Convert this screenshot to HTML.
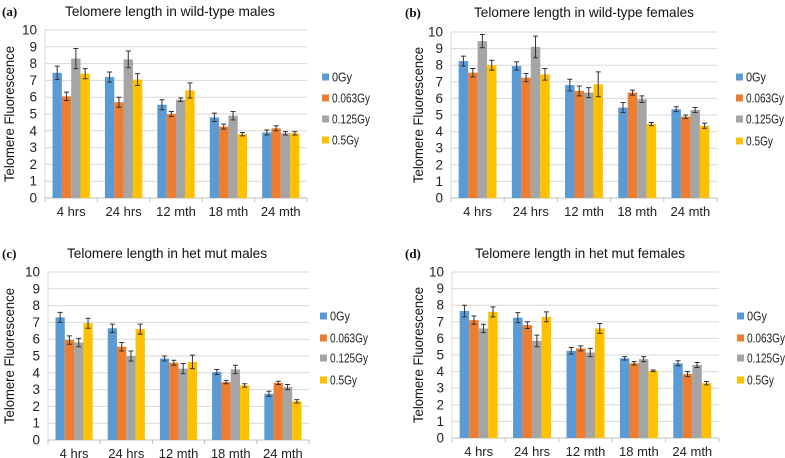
<!DOCTYPE html>
<html><head><meta charset="utf-8">
<style>
html,body{margin:0;padding:0;background:#fff;}
svg{display:block;font-family:"Liberation Sans",sans-serif;}
</style></head>
<body>
<svg id="fig" width="785" height="458" viewBox="0 0 785 458" xmlns="http://www.w3.org/2000/svg"></svg>
<script>
const categories = ["4 hrs","24 hrs","12 mth","18 mth","24 mth"];
const seriesNames = ["0Gy","0.063Gy","0.125Gy","0.5Gy"];
const yTicks = [0,1,2,3,4,5,6,7,8,9,10];
const titles = ["Telomere length in wild-type males","Telomere length in wild-type females","Telomere length in het mut males","Telomere length in het mut females"];
const panelLetters = ["(a)","(b)","(c)","(d)"];
const aVals = [[7.45,7.2,5.55,4.8,3.9],[6.05,5.7,5.0,4.25,4.15],[8.3,8.25,5.85,4.9,3.85],[7.4,7.05,6.4,3.8,3.85]];
const aErr  = [[0.4,0.3,0.3,0.25,0.15],[0.25,0.3,0.15,0.15,0.15],[0.6,0.5,0.1,0.25,0.1],[0.3,0.35,0.45,0.1,0.1]];
const bVals = [[8.25,7.95,6.8,5.45,5.35],[7.55,7.25,6.45,6.35,4.9],[9.45,9.1,6.35,5.95,5.3],[8.0,7.45,6.85,4.45,4.35]];
const bErr  = [[0.3,0.25,0.35,0.3,0.15],[0.25,0.25,0.3,0.15,0.1],[0.4,0.65,0.3,0.2,0.15],[0.3,0.35,0.75,0.1,0.15]];
const cVals = [[7.3,6.65,4.85,4.05,2.75],[5.95,5.55,4.6,3.45,3.4],[5.8,5.0,4.25,4.2,3.15],[6.95,6.6,4.65,3.25,2.3]];
const cErr  = [[0.3,0.25,0.15,0.15,0.15],[0.25,0.25,0.15,0.1,0.1],[0.25,0.3,0.3,0.25,0.15],[0.3,0.3,0.4,0.1,0.1]];
const dVals = [[7.65,7.25,5.25,4.8,4.5],[7.1,6.8,5.4,4.5,3.85],[6.6,5.85,5.15,4.75,4.4],[7.6,7.3,6.6,4.05,3.3]];
const dErr  = [[0.35,0.3,0.2,0.1,0.15],[0.25,0.2,0.15,0.1,0.15],[0.25,0.35,0.25,0.15,0.15],[0.3,0.3,0.3,0.05,0.1]];

const colors = ["#5b9bd5","#ed7d31","#a5a5a5","#ffc000"];
const legendLens = [20,38,38,27];
const panels = [
 {vals:aVals,err:aErr,L:45,R:307,T:30,B:198,lx:322,ly:[77,98,119,140],tx:170,ty:12,tl:210,px:2,yl:10},
 {vals:bVals,err:bErr,L:451,R:717,T:32,B:198,lx:736,ly:[77,98,119,141],tx:584,ty:13,tl:220,px:405,yl:419},
 {vals:cVals,err:cErr,L:48,R:309,T:272,B:440,lx:320,ly:[316,338,358,380],tx:167,ty:254,tl:200,px:2,yl:10},
 {vals:dVals,err:dErr,L:452,R:719,T:272,B:438,lx:737,ly:[316,338,358,380],tx:580,ty:254,tl:210,px:405,yl:419}
];
const NS="http://www.w3.org/2000/svg";
const svg=document.getElementById('fig');
function mk(tag,attrs,parent){const e=document.createElementNS(NS,tag);for(const k in attrs)e.setAttribute(k,attrs[k]);(parent||svg).appendChild(e);return e;}

panels.forEach((p,pi)=>{
  const g=mk('g',{});
  
  
  const y=v=>p.B-(v/10)*(p.B-p.T);
  const cw=(p.R-p.L)/categories.length;
  const bw=cw*0.178;
  yTicks.forEach(t=>{
    if(t>0){const l=mk('line',{x1:p.L,x2:p.R,y1:y(t),y2:y(t),stroke:'#d9d9d9','stroke-width':1},g);
    
    }
    const tx=mk('text',{x:p.L-8,y:y(t)+4.5,'text-anchor':'end','font-size':13.5,fill:'#222'},g);
    tx.textContent=t;
    
    
  });
  const ax=mk('line',{x1:p.L,x2:p.R,y1:p.B,y2:p.B,stroke:'#bfbfbf','stroke-width':1},g);
  
  
  const ay=mk('line',{x1:p.L,x2:p.L,y1:p.T,y2:p.B,stroke:'#d9d9d9','stroke-width':1},g);
  
  
  for(let i=0;i<=categories.length;i++){
    const tk=mk('line',{x1:p.L+i*cw,x2:p.L+i*cw,y1:p.B,y2:p.B+4,stroke:'#bfbfbf'},g);
    
    
  }
  categories.forEach((c,ci)=>{
    const cx=p.L+(ci+0.5)*cw;
    const lab=mk('text',{x:cx,y:p.B+18,'text-anchor':'middle','font-size':13,fill:'#222'},g);
    lab.textContent=c;
    
    
    p.vals.forEach((ser,si)=>{
      const v=ser[ci],e=p.err[si][ci];
      const x0=cx-2*bw+si*bw;
      const r=mk('rect',{x:x0,y:y(v),width:bw,height:p.B-y(v),fill:colors[si]},g);
      
      
      const xm=x0+bw/2;
      const eb=mk('path',{d:`M${xm},${y(v+e)}V${y(v-e)}M${xm-2.5},${y(v+e)}H${xm+2.5}M${xm-2.5},${y(v-e)}H${xm+2.5}`,stroke:'#333','stroke-width':1,fill:'none'},g);
      
      
    });
  });
  const t=mk('text',{x:p.tx,y:p.ty+4,'text-anchor':'middle','font-size':14,fill:'#111',textLength:p.tl,lengthAdjust:'spacingAndGlyphs'},g);
  t.textContent=titles[pi];
  
  
  const pl=mk('text',{x:p.px,y:p.ty+4,'font-size':13,'font-weight':'bold','font-family':'Liberation Serif, serif',fill:'#111'},g);
  pl.textContent=panelLetters[pi];
  
  
  const ymid=(p.T+p.B)/2;
  const yt=mk('text',{x:p.yl,y:ymid,'text-anchor':'middle','font-size':13.5,fill:'#111',textLength:136,lengthAdjust:'spacingAndGlyphs',transform:`rotate(-90 ${p.yl} ${ymid}) translate(0 4)`},g);
  yt.textContent="Telomere Fluorescence";
  
  
  seriesNames.forEach((n,si)=>{
    const ly=p.ly[si];
    const sq=mk('rect',{x:p.lx,y:ly-3.5,width:7,height:7,fill:colors[si]},g);
    
    
    const lt=mk('text',{x:p.lx+10,y:ly+4.5,'font-size':12.5,fill:'#222',textLength:legendLens[si],lengthAdjust:'spacingAndGlyphs'},g);
    lt.textContent=n;
    
    
  });
});
</script>
</body></html>
